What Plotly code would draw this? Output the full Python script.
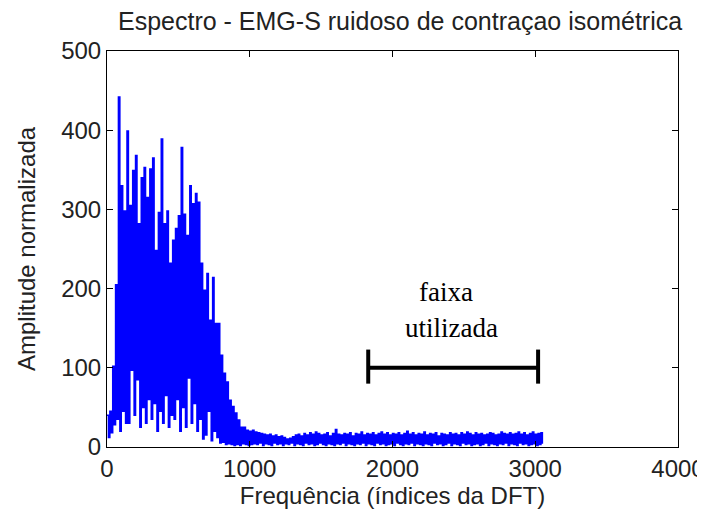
import plotly.graph_objects as go

FREQ_STEP = 10

# Amplitude, 0..1000 (dense EMG band), peak / trough pairs every FREQ_STEP
AMP_BAND = [
    40, 12, 45, 18, 102, 28, 205, 35, 442, 20,
    330, 45, 298, 30, 399, 30, 305, 97, 349, 40,
    368, 85, 282, 25, 340, 50, 353, 30, 315, 60,
    351, 35, 365, 55, 248, 20, 296, 45, 389, 30,
    282, 65, 298, 25, 232, 40, 261, 35, 276, 60,
    292, 20, 378, 50, 294, 25, 267, 87, 330, 30,
    307, 55, 320, 20, 309, 35, 232, 10, 198, 15,
    219, 45, 160, 8, 214, 20, 156, 12, 156, 5,
    116, 6, 93, 3, 82, 4, 59, 3, 51, 2,
    43, 3, 34, 2, 25, 4, 25, 3, 21, 2,
    20,
]

# Amplitude, 1010..3050 (noise floor)
AMP_TAIL = [
    3, 21, 4, 19, 3, 18, 5, 17, 2, 16, 4, 15, 3, 16, 2, 14, 5, 15, 3, 13,
    4, 14, 2, 12, 4, 10, 3, 11, 5, 13, 2, 15, 4, 16, 3, 14, 2, 17, 5, 15,
    3, 18, 4, 16, 2, 19, 3, 17, 5, 15, 3, 16, 2, 18, 4, 14, 3, 17, 2, 22,
    4, 16, 3, 15, 5, 17, 2, 16, 4, 18, 3, 14, 2, 17, 4, 16, 3, 19, 5, 15,
    2, 17, 4, 16, 3, 18, 2, 15, 5, 17, 3, 19, 4, 16, 2, 18, 3, 15, 4, 17,
    2, 16, 5, 18, 3, 15, 2, 17, 4, 20, 3, 16, 5, 18, 2, 15, 4, 17, 3, 16,
    2, 19, 4, 15, 3, 17, 2, 16, 5, 18, 3, 14, 4, 17, 2, 16, 3, 15, 5, 18,
    2, 16, 4, 17, 3, 15, 2, 18, 5, 16, 3, 19, 4, 17, 2, 15, 3, 18, 4, 16,
    2, 17, 3, 15, 5, 16, 2, 18, 4, 17, 3, 15, 2, 16, 4, 19, 3, 17, 5, 16,
    2, 18, 4, 16, 3, 17, 2, 19, 5, 16, 3, 18, 4, 15, 2, 17, 3, 19, 4, 16,
    2, 17, 3, 18, 4,
]

# Bracket marking the band used
BAND_START = 1830
BAND_END = 3020
BAND_LEVEL = 100
BAND_CAP_LOW = 80
BAND_CAP_HIGH = 123

X_TICKS = [0, 1000, 2000, 3000, 4000]
Y_TICKS = [0, 100, 200, 300, 400, 500]

TEXT_COLOR = "#222222"
SANS = "Liberation Sans, Arial, sans-serif"
SERIF = "Liberation Serif, Times New Roman, serif"

amplitude = AMP_BAND + AMP_TAIL
freq_idx = [i * FREQ_STEP for i in range(len(amplitude))]

fig = go.Figure()
fig.add_trace(
    go.Scatter(
        x=freq_idx,
        y=amplitude,
        mode="lines",
        # step shape keeps the dense spectrum looking solid, like the original
        line=dict(color="#0000ff", width=1.5, shape="hv"),
        hoverinfo="x+y",
        showlegend=False,
    )
)

# bracket: horizontal bar + two end caps
for x0, x1, y0, y1 in [
    (BAND_START, BAND_END, BAND_LEVEL, BAND_LEVEL),
    (BAND_START, BAND_START, BAND_CAP_LOW, BAND_CAP_HIGH),
    (BAND_END, BAND_END, BAND_CAP_LOW, BAND_CAP_HIGH),
]:
    fig.add_shape(
        type="line", xref="x", yref="y",
        x0=x0, x1=x1, y0=y0, y1=y1,
        line=dict(color="black", width=4),
    )

fig.add_annotation(
    x=2375, y=196, xref="x", yref="y", text="faixa", showarrow=False,
    font=dict(family=SERIF, size=27, color="black"),
)
fig.add_annotation(
    x=2410, y=150, xref="x", yref="y", text="utilizada", showarrow=False,
    font=dict(family=SERIF, size=27, color="black"),
)

axis_common = dict(
    showline=True,
    linecolor="black",
    linewidth=1,
    mirror="ticks",
    ticks="inside",
    ticklen=6,
    tickcolor="black",
    showgrid=False,
    zeroline=False,
    automargin=False,
    tickfont=dict(family=SANS, size=24, color=TEXT_COLOR),
)

# page body has an 8px margin, so the figure is 8px smaller than the window
fig.update_layout(
    width=697,
    height=512,
    margin=dict(l=99, r=27, t=43, b=73),
    paper_bgcolor="white",
    plot_bgcolor="white",
    title=dict(
        text="Espectro - EMG-S ruidoso de contraçao isométrica",
        x=0.5625, xanchor="center", y=0.974, yanchor="middle",
        font=dict(family=SANS, size=25, color=TEXT_COLOR),
    ),
    xaxis=dict(
        range=[0, 4000], tickvals=X_TICKS,
        title=dict(text="Frequência (índices da DFT)", standoff=4,
                   font=dict(family=SANS, size=24, color=TEXT_COLOR)),
        **axis_common,
    ),
    yaxis=dict(
        range=[0, 500], tickvals=Y_TICKS,
        title=dict(text="Amplitude normalizada", standoff=18,
                   font=dict(family=SANS, size=24, color=TEXT_COLOR)),
        **axis_common,
    ),
)

fig.write_html("out.html")
